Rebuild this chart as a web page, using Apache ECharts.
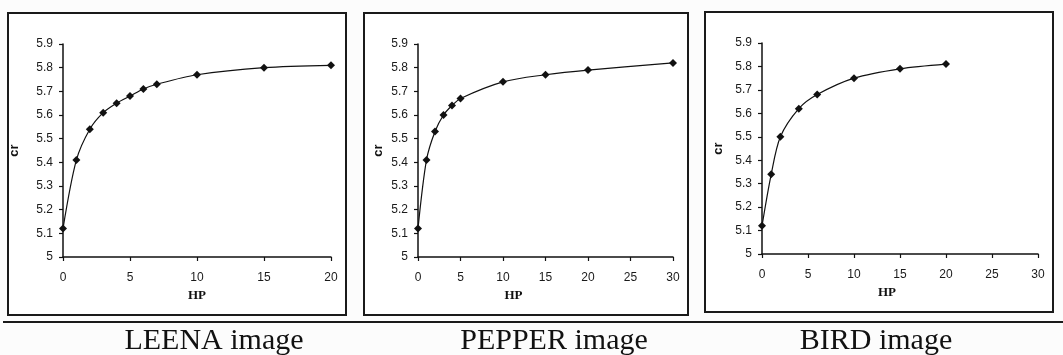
<!DOCTYPE html>
<html>
<head>
<meta charset="utf-8">
<script src="https://cdn.jsdelivr.net/npm/echarts@6/dist/echarts.min.js"></script>
<style>
  html, body { margin: 0; padding: 0; background: #fcfcfc; }
  #chart { width: 1063px; height: 355px; }
</style>
</head>
<body>
<div id="chart"></div>
<script>
// values
const hpLeena = [0, 1, 2, 3, 4, 5, 6, 7, 10, 15, 20]
const crLeena = [5.12, 5.41, 5.54, 5.61, 5.65, 5.68, 5.71, 5.73, 5.77, 5.80, 5.81]

const hpPepper = [0, 1, 2, 3, 4, 5, 10, 15, 20, 30]
const crPepper = [5.12, 5.41, 5.53, 5.60, 5.64, 5.67, 5.74, 5.77, 5.79, 5.82]

const hpBird = [0, 1, 2, 4, 6, 10, 15, 20]
const crBird = [5.12, 5.34, 5.50, 5.62, 5.68, 5.75, 5.79, 5.81]

const xMax = [20, 30, 30]
const captions = ['LEENA image', 'PEPPER image', 'BIRD image']

const chart = echarts.init(document.getElementById('chart'))

const grids = [
  { left: 63, top: 44, width: 268, height: 213 },
  { left: 418, top: 44, width: 255, height: 213 },
  { left: 762, top: 43, width: 276, height: 211 }
]
const crGap = [42, 33, 37]
const hpShift = [0, 64, 26]

const axisText = { color: '#1a1a1a', fontFamily: 'Liberation Sans', fontSize: 12 }
const axisLine = { lineStyle: { color: '#111', width: 1.5 } }

const xAxes = grids.map((g, i) => ({
  gridIndex: i,
  type: 'value',
  min: 0,
  max: xMax[i],
  interval: 5,
  splitLine: { show: false },
  axisLine: axisLine,
  axisTick: { length: 4, lineStyle: { color: '#111', width: 1.2 } },
  axisLabel: Object.assign({ margin: 15 }, axisText),
  name: 'HP',
  nameLocation: 'middle',
  nameGap: 32,
  nameTextStyle: {
    color: '#111',
    fontFamily: 'Liberation Serif',
    fontSize: 13,
    fontWeight: 'bold',
    padding: [0, hpShift[i], 0, 0]
  }
}))

const yAxes = grids.map((g, i) => ({
  gridIndex: i,
  type: 'value',
  min: 5,
  max: 5.9,
  interval: 0.1,
  splitLine: { show: false },
  axisLine: Object.assign({ show: true }, axisLine),
  axisTick: { show: true, length: 4, lineStyle: { color: '#111', width: 1.2 } },
  axisLabel: Object.assign({ margin: 10 }, axisText),
  name: 'cr',
  nameLocation: 'middle',
  nameGap: crGap[i],
  nameTextStyle: {
    color: '#111',
    fontFamily: 'Liberation Sans',
    fontSize: 13,
    fontWeight: 'bold'
  }
}))

const pairs = (xs, ys) => xs.map((x, k) => [x, ys[k]])
const seriesData = [pairs(hpLeena, crLeena), pairs(hpPepper, crPepper), pairs(hpBird, crBird)]

const series = seriesData.map((d, i) => ({
  type: 'line',
  xAxisIndex: i,
  yAxisIndex: i,
  data: d,
  smooth: 0.3,
  symbol: 'diamond',
  symbolSize: 8,
  lineStyle: { color: '#111', width: 1.2 },
  itemStyle: { color: '#111' }
}))

// panel frames, rule under them and the captions
const boxes = [
  { x: 8, y: 13, width: 338, height: 302 },
  { x: 364, y: 13, width: 324, height: 302 },
  { x: 705, y: 12, width: 348, height: 300 }
]
const captionX = [214, 554, 876]

const graphic = boxes.map(b => ({
  type: 'rect',
  shape: b,
  style: { fill: '#fff', stroke: '#1a1a1a', lineWidth: 2 },
  z: -1
})).concat([
  {
    type: 'line',
    shape: { x1: 3, y1: 322, x2: 1063, y2: 322 },
    style: { stroke: '#1a1a1a', lineWidth: 2 }
  }
]).concat(captions.map((c, i) => ({
  type: 'text',
  x: captionX[i],
  y: 341,
  style: {
    text: c,
    fill: '#111',
    font: '30px "Liberation Serif"',
    align: 'center',
    verticalAlign: 'middle'
  }
})))

chart.setOption({
  animation: false,
  backgroundColor: '#fcfcfc',
  grid: grids,
  xAxis: xAxes,
  yAxis: yAxes,
  series: series,
  graphic: graphic
})
</script>
</body>
</html>
